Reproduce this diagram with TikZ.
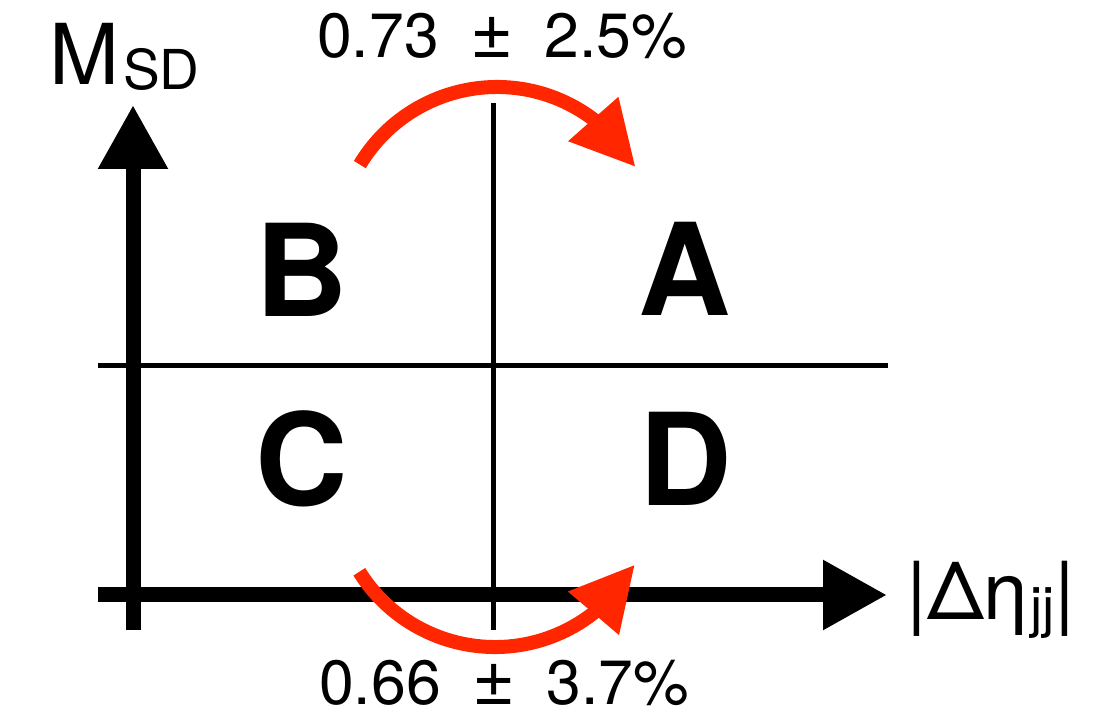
\documentclass[tikz,border=0pt]{standalone}
\usepackage{fontspec}
\setmainfont{TeX Gyre Heros}
\usetikzlibrary{arrows.meta,bending}
\definecolor{arcred}{RGB}{255,38,0}
\newcommand{\pmbig}{{\fontsize{74}{74}\selectfont ±}}
\begin{document}
\begin{tikzpicture}[x=1pt,y=1pt,
  axis/.style={line width=15pt,-{Triangle[length=64pt,width=66pt]}},
  divider/.style={line width=5pt},
  swaparrow/.style={arcred,line width=14pt,-{Triangle[length=64pt,width=63pt]}},
  region/.style={anchor=base,font=\fontsize{128}{128}\selectfont\bfseries,inner sep=0pt},
  ratio/.style={anchor=base west,font=\fontsize{62.5}{62.5}\selectfont,inner sep=0pt},
  axlabel/.style={anchor=base west,inner sep=0pt},
]
\useasboundingbox (0,0) rectangle (1111,719);
% coordinates
\coordinate (ybot) at (133,89);
\coordinate (ytop) at (133,614);
\coordinate (xleft) at (98,124);
\coordinate (xright) at (887,124);
\coordinate (hl) at (98,353);
\coordinate (hr) at (888,353);
\coordinate (vt) at (493,616);
\coordinate (vb) at (493,89);
\coordinate (topstart) at (359.85,554.4);
\coordinate (botstart) at (359.3,147.2);
% dividers
\draw[divider] (hl) -- (hr);
\draw[divider] (vt) -- (vb);
% axes
\draw[axis] (ybot) -- (ytop);
\draw[axis] (xleft) -- (xright);
% region labels
\node[region] (B) at (301.5,402) {B};
\node[region] (A) at (685,403) {A};
\node[region] (C) at (301.5,213) {C};
\node[region] (D) at (686,213) {D};
% axis labels
\node[axlabel] (ylab) at (49,634) {\fontsize{84}{84}\selectfont M\hspace{4pt}\raisebox{-5pt}{\fontsize{55}{55}\selectfont SD}};
\node[axlabel] (xlab) at (906,99) {\fontsize{80}{80}\selectfont |Δη\hspace{2pt}\raisebox{-7pt}{\fontsize{55}{55}\selectfont jj}|};
% ratios
\node[ratio] (topratio) at (317,661) {0.73\hspace{0.5em}\pmbig\hspace{0.5em}2.5\%};
\node[ratio] (botratio) at (319,14) {0.66\hspace{0.5em}\pmbig\hspace{0.5em}3.7\%};
% transfer arrows
\draw[swaparrow] (topstart) arc[start angle=149,end angle=30,radius=160];
\draw[swaparrow] (botstart) arc[start angle=212,end angle=331,radius=160];
\end{tikzpicture}
\end{document}
